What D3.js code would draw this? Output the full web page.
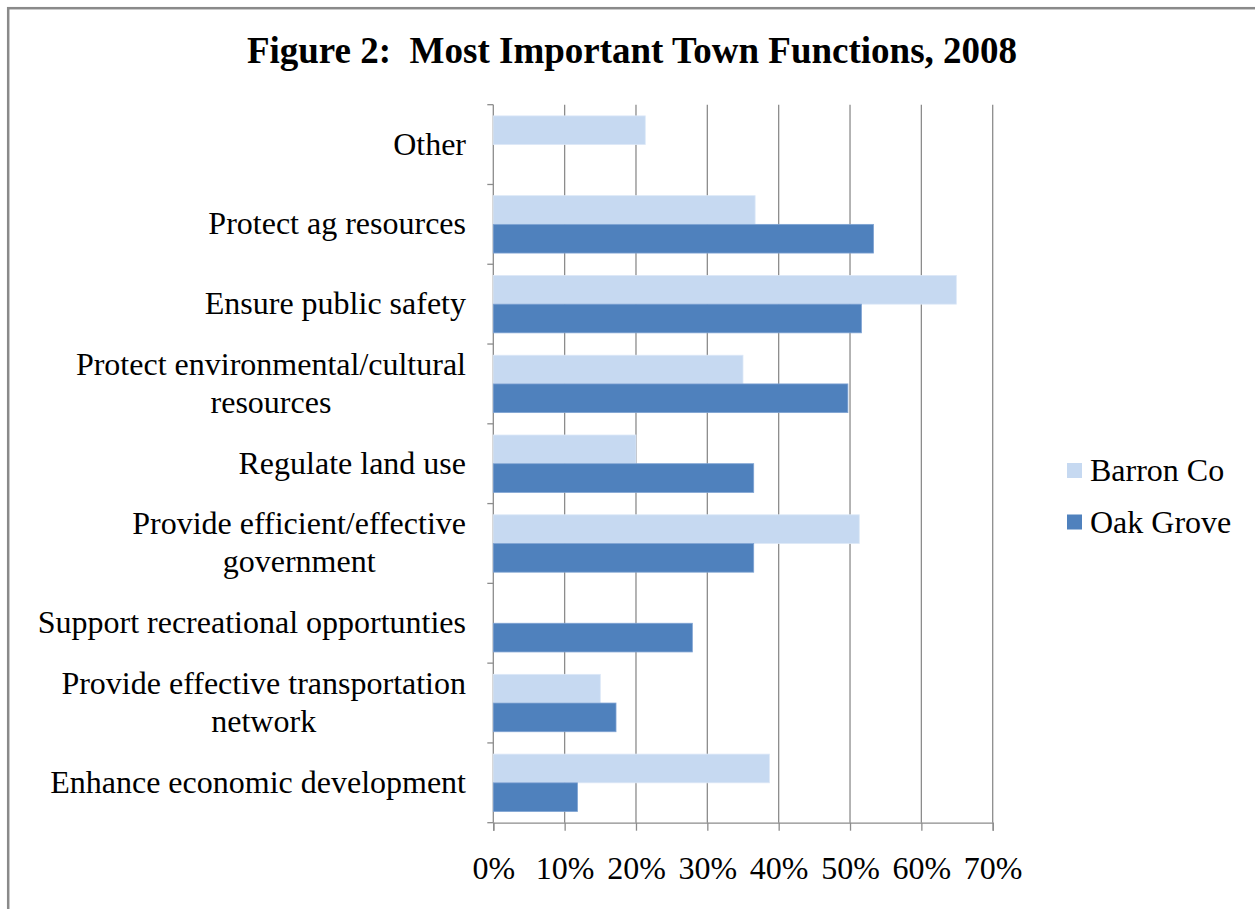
<!DOCTYPE html>
<html>
<head>
<meta charset="utf-8">
<script src="https://cdn.jsdelivr.net/npm/d3@7"></script>
<style>
  html, body { margin: 0; padding: 0; background: #fff; }
  svg { display: block; }
  text { font-family: "Liberation Serif", "Times New Roman", serif; fill: #000; }
</style>
</head>
<body>
<svg id="chart" width="1255" height="909"></svg>
<script>
// ---- Data (top to bottom as displayed) ----
const categories = [
  ["Other"],
  ["Protect ag resources"],
  ["Ensure public safety"],
  ["Protect environmental/cultural", "resources"],
  ["Regulate land use"],
  ["Provide efficient/effective", "government"],
  ["Support recreational opportunties"],
  ["Provide effective transportation", "network"],
  ["Enhance economic development"]
];
const seriesNames = ["Barron Co", "Oak Grove"];
const barronCo = [21.3, 36.7, 64.9, 35.0, 20.0, 51.3, 0, 15.0, 38.7];
const oakGrove = [0, 53.3, 51.6, 49.7, 36.5, 36.5, 27.9, 17.2, 11.8];
const xTicks = [0, 10, 20, 30, 40, 50, 60, 70];
const colors = ["#C6D9F1", "#4F81BD"];
const title = "Figure 2:  Most Important Town Functions, 2008";

(function () {
// ---- Layout ----
const svg = d3.select("#chart");
const pLeft = 493.3, pRight = 992.7, pTop = 104.7, pBottom = 822.7;
const gridColor = "#8c8c8c";
const fs = "32px";

// outer frame (top and left edges visible)
svg.append("rect").attr("x", 8.2).attr("y", 8.2).attr("width", 1300).attr("height", 1000)
  .attr("fill", "none").attr("stroke", "#8a8a8a").attr("stroke-width", 2.5);

svg.append("text").attr("x", 632).attr("y", 63).attr("text-anchor", "middle")
  .style("white-space", "pre").attr("xml:space", "preserve")
  .style("font-size", "37px").style("font-weight", "bold").text(title);

const x = d3.scaleLinear().domain([0, 70]).range([pLeft, pRight]);
const idx = d3.range(categories.length);
const y = d3.scaleBand().domain(idx).range([pTop, pBottom]).paddingInner(0).paddingOuter(0);
const sub = d3.scaleBand().domain([0, 1]).range([0, y.bandwidth()]).paddingInner(0).paddingOuter(0.39);

// gridlines
svg.append("g").selectAll("line").data(xTicks.slice(1)).join("line")
  .attr("x1", d => x(d)).attr("x2", d => x(d)).attr("y1", pTop).attr("y2", pBottom)
  .attr("stroke", gridColor).attr("stroke-width", 1.3);

// x axis
const xAxis = d3.axisBottom(x).tickValues(xTicks).tickFormat(d => d + "%").tickSize(8).tickPadding(26);
const gx = svg.append("g").attr("transform", `translate(0,${pBottom})`).call(xAxis);
gx.select(".domain").attr("stroke", gridColor).attr("stroke-width", 1.3);
gx.selectAll(".tick line").attr("stroke", gridColor).attr("stroke-width", 1.3);
gx.selectAll(".tick text").style("font-size", fs).style("font-family", "Liberation Serif, serif").attr("fill", "#000");

// y axis line + ticks at band boundaries
svg.append("line").attr("x1", pLeft).attr("x2", pLeft).attr("y1", pTop).attr("y2", pBottom)
  .attr("stroke", gridColor).attr("stroke-width", 1.3);
const boundaries = idx.map(i => y(i)).concat([pBottom]);
svg.append("g").selectAll("line").data(boundaries).join("line")
  .attr("x1", pLeft - 6).attr("x2", pLeft).attr("y1", d => d).attr("y2", d => d)
  .attr("stroke", gridColor).attr("stroke-width", 1.3);

// bars
const series = [barronCo, oakGrove];
series.forEach((vals, s) => {
  svg.append("g").selectAll("rect").data(vals).join("rect")
    .attr("x", x(0))
    .attr("y", (d, i) => y(i) + sub(s))
    .attr("width", d => Math.max(0, x(d) - x(0)))
    .attr("height", sub.bandwidth())
    .attr("fill", colors[s])
    .attr("stroke", s === 0 ? "#dce8f7" : "#7fa3d3")
    .attr("stroke-width", d => d > 0 ? 0.8 : 0);
});

// category labels: right-aligned block, lines centered within the block
const lineH = 38;
const labelRight = 466;
const lab = svg.append("g");
categories.forEach((lines, i) => {
  const cy = y(i) + y.bandwidth() / 2;
  const n = lines.length;
  const texts = lines.map((ln, k) =>
    lab.append("text").style("font-size", fs).attr("text-anchor", "middle")
      .attr("y", cy + 10 + (k - (n - 1) / 2) * lineH).text(ln));
  const maxW = d3.max(texts, t => t.node().getComputedTextLength());
  texts.forEach(t => t.attr("x", labelRight - maxW / 2));
});

// legend
const legend = svg.append("g");
seriesNames.forEach((name, s) => {
  const ly = 463 + s * 51.5;
  legend.append("rect").attr("x", 1067).attr("y", ly).attr("width", 15).attr("height", 15).attr("fill", colors[s]);
  legend.append("text").attr("x", 1090).attr("y", ly + 18).style("font-size", fs).text(name);
});
})();
</script>
</body>
</html>
